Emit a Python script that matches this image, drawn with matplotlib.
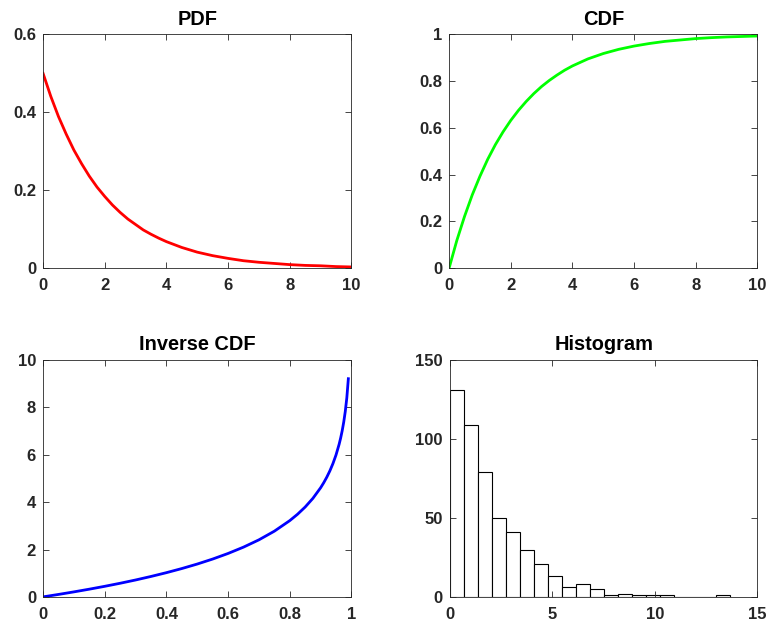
import matplotlib
matplotlib.use("Agg")
import matplotlib.pyplot as plt

plt.rcParams['font.family'] = ['Liberation Sans', 'DejaVu Sans']
plt.rcParams['font.weight'] = 'bold'
plt.rcParams['font.size'] = 12

# values
x_vals = [0, 0.25, 0.5, 0.75, 1, 1.25, 1.5, 1.75, 2, 2.25, 2.5, 2.75, 3, 3.25,
          3.5, 3.75, 4, 4.5, 5, 5.5, 6, 6.5, 7, 7.5, 8, 8.5, 9, 9.5, 10]
pdf_vals = [0.5, 0.441, 0.389, 0.344, 0.303, 0.268, 0.236, 0.208, 0.184, 0.162,
            0.143, 0.126, 0.112, 0.098, 0.087, 0.077, 0.068, 0.053, 0.041,
            0.032, 0.025, 0.019, 0.015, 0.012, 0.009, 0.007, 0.006, 0.004, 0.003]
cdf_vals = [0, 0.118, 0.221, 0.313, 0.393, 0.465, 0.528, 0.583, 0.632, 0.675,
            0.713, 0.747, 0.777, 0.803, 0.826, 0.847, 0.865, 0.895, 0.918,
            0.936, 0.950, 0.961, 0.970, 0.976, 0.982, 0.986, 0.989, 0.991, 0.993]

p_vals = [0, 0.05, 0.1, 0.15, 0.2, 0.25, 0.3, 0.35, 0.4, 0.45, 0.5, 0.55, 0.6,
          0.65, 0.7, 0.75, 0.8, 0.825, 0.85, 0.875, 0.9, 0.91, 0.92, 0.93,
          0.94, 0.95, 0.96, 0.965, 0.97, 0.975, 0.98, 0.985, 0.99]
inv_vals = [0, 0.103, 0.211, 0.325, 0.446, 0.575, 0.713, 0.862, 1.022, 1.196,
            1.386, 1.597, 1.833, 2.100, 2.408, 2.773, 3.219, 3.486, 3.794,
            4.159, 4.605, 4.816, 5.051, 5.318, 5.627, 5.991, 6.438, 6.704,
            7.013, 7.378, 7.824, 8.399, 9.210]

hist_edges = [0, 0.682, 1.364, 2.046, 2.728, 3.41, 4.092, 4.774, 5.456, 6.138,
              6.82, 7.502, 8.184, 8.866, 9.548, 10.23, 10.912, 11.594, 12.276,
              12.958, 13.64]
hist_counts = [131, 109, 79, 50, 41, 30, 21, 13, 6, 8, 5, 1, 2, 1, 1, 1, 0, 0, 0, 1]

fig = plt.figure(figsize=(7.69, 6.25), dpi=100)
ax1 = fig.add_axes([0.056, 0.571, 0.401, 0.374])
ax2 = fig.add_axes([0.584, 0.571, 0.401, 0.374])
ax3 = fig.add_axes([0.056, 0.045, 0.401, 0.379])
ax4 = fig.add_axes([0.585, 0.045, 0.400, 0.379])

ax1.plot(x_vals, pdf_vals, color='red', lw=2)
ax1.set_xlim(0, 10)
ax1.set_ylim(0, 0.6)
ax1.set_xticks([0, 2, 4, 6, 8, 10])
ax1.set_yticks([0, 0.2, 0.4, 0.6], ['0', '0.2', '0.4', '0.6'])
ax1.set_title('PDF', fontweight='bold', pad=7)

ax2.plot(x_vals, cdf_vals, color='#00ff00', lw=2)
ax2.set_xlim(0, 10)
ax2.set_ylim(0, 1)
ax2.set_xticks([0, 2, 4, 6, 8, 10])
ax2.set_yticks([0, 0.2, 0.4, 0.6, 0.8, 1], ['0', '0.2', '0.4', '0.6', '0.8', '1'])
ax2.set_title('CDF', fontweight='bold', pad=7)

ax3.plot(p_vals, inv_vals, color='blue', lw=2)
ax3.set_xlim(0, 1)
ax3.set_ylim(0, 10)
ax3.set_xticks([0, 0.2, 0.4, 0.6, 0.8, 1], ['0', '0.2', '0.4', '0.6', '0.8', '1'])
ax3.set_yticks([0, 2, 4, 6, 8, 10])
ax3.set_title('Inverse CDF', fontweight='bold', pad=7)

widths = [hist_edges[i + 1] - hist_edges[i] for i in range(len(hist_counts))]
ax4.bar(hist_edges[:-1], hist_counts, width=widths, align='edge',
        facecolor='white', edgecolor='black', linewidth=0.8)
ax4.set_xlim(0, 15)
ax4.set_ylim(0, 150)
ax4.set_xticks([0, 5, 10, 15])
ax4.set_yticks([0, 50, 100, 150])
ax4.set_title('Histogram', fontweight='bold', pad=7)

for ax in (ax1, ax2, ax3, ax4):
    ax.tick_params(direction='in', top=True, right=True, length=4, width=0.6,
                   color='#262626', labelsize=12)
    ax.tick_params(axis='x', pad=7)
    ax.tick_params(axis='y', pad=5)
    for s in ax.spines.values():
        s.set_color('#262626')
        s.set_linewidth(0.6)
    for lbl in ax.get_xticklabels() + ax.get_yticklabels():
        lbl.set_fontweight('bold')
        lbl.set_color('#262626')

fig.savefig('out.png', dpi=100)
